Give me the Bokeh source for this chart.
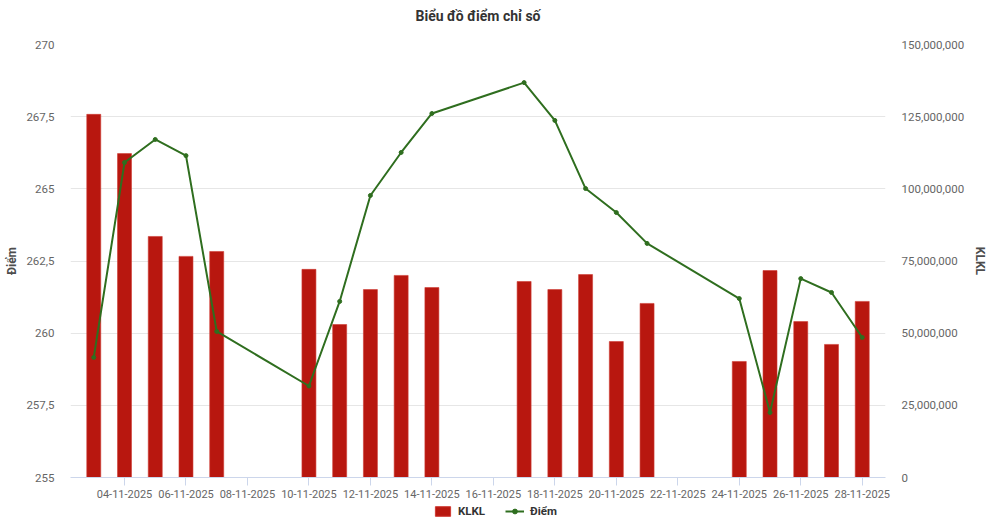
from bokeh.plotting import figure
from bokeh.models import (Range1d, LinearAxis, FixedTicker, DatetimeTickFormatter, Legend, LegendItem,
                          ColumnDataSource, Title)
from bokeh.layouts import column
from bokeh.embed import file_html
from bokeh.resources import INLINE
import pandas as pd

# du lieu doc tu bieu do
days = ["03-11-2025", "04-11-2025", "05-11-2025", "06-11-2025", "07-11-2025",
        "10-11-2025", "11-11-2025", "12-11-2025", "13-11-2025", "14-11-2025",
        "17-11-2025", "18-11-2025", "19-11-2025", "20-11-2025", "21-11-2025",
        "24-11-2025", "25-11-2025", "26-11-2025", "27-11-2025", "28-11-2025"]
klkl = [125.8e6, 112.2e6, 83.5e6, 76.6e6, 78.3e6,
        72.1e6, 53.0e6, 65.1e6, 70.0e6, 65.8e6,
        67.9e6, 65.1e6, 70.3e6, 47.1e6, 60.3e6,
        40.2e6, 71.7e6, 54.0e6, 46.1e6, 61.0e6]
diem = [259.16, 265.91, 266.71, 266.15, 260.06,
        258.17, 261.10, 264.77, 266.26, 267.61,
        268.68, 267.37, 265.01, 264.18, 263.11,
        261.20, 257.25, 261.89, 261.41, 259.85]

left_ticks = [255, 257.5, 260, 262.5, 265, 267.5, 270]
left_labels = ["255", "257,5", "260", "262,5", "265", "267,5", "270"]
right_ticks = [0, 25e6, 50e6, 75e6, 100e6, 125e6, 150e6]
right_labels = ["0", "25,000,000", "50,000,000", "75,000,000", "100,000,000", "125,000,000", "150,000,000"]
x_tick_days = ["04-11-2025", "06-11-2025", "08-11-2025", "10-11-2025", "12-11-2025", "14-11-2025",
               "16-11-2025", "18-11-2025", "20-11-2025", "22-11-2025", "24-11-2025", "26-11-2025", "28-11-2025"]

FONT = "Roboto"
RED = "#b8170f"
GREEN = "#2f6e1f"

dates = pd.to_datetime(days, format="%d-%m-%Y")
src = ColumnDataSource(dict(x=dates, klkl=klkl, diem=diem))

p = figure(width=1000, height=503, x_axis_type="datetime", output_backend="svg", toolbar_location=None,
           x_range=Range1d(pd.Timestamp("2025-11-02 05:50"), pd.Timestamp("2025-11-28 18:10")),
           y_range=Range1d(255, 270),
           min_border_left=70, min_border_right=115, min_border_top=44, min_border_bottom=26)
p.extra_y_ranges = {"vol": Range1d(0, 150e6)}
p.outline_line_color = None

# tieu de: mot khoang trong roi den chu
p.title.text = ""
p.add_layout(Title(text=" ", text_font=FONT, text_font_size="14px", standoff=3), "above")
p.add_layout(Title(text="Biểu đồ điểm chỉ số", align="center", text_font=FONT, text_font_size="14px",
                   text_color="#333333", standoff=0), "above")

# cot KLKL
bars = p.vbar(x="x", top="klkl", bottom=0, width=0.455 * 86400000, source=src, y_range_name="vol",
              fill_color=RED, line_color="#cf3a33", line_width=0.6)
# duong diem
ln = p.line("x", "diem", source=src, line_color=GREEN, line_width=2)
pts = p.scatter("x", "diem", source=src, size=4, color=GREEN)

# truc x
xt = FixedTicker(ticks=[pd.to_datetime(d, format="%d-%m-%Y").value // 10**6 for d in x_tick_days])
p.xaxis.ticker = xt
p.xaxis.formatter = DatetimeTickFormatter(days="%d-%m-%Y", months="%d-%m-%Y", hours="%d-%m-%Y",
                                          years="%d-%m-%Y")
p.xaxis.axis_line_color = "#ccd6eb"
p.xaxis.major_tick_line_color = "#ccd6eb"
p.xaxis.major_tick_out = 8
p.xaxis.major_tick_in = 0
p.xaxis.minor_tick_line_color = None
p.xaxis.major_label_text_font = FONT
p.xaxis.major_label_text_font_size = "11px"
p.xaxis.major_label_text_color = "#666666"
p.xaxis.major_label_standoff = 4
p.xgrid.visible = False

# truc trai
lt = FixedTicker(ticks=left_ticks)
p.yaxis.ticker = lt
p.ygrid.ticker = lt
p.ygrid.grid_line_color = "#e6e6e6"
p.yaxis.major_label_overrides = dict(zip(left_ticks, left_labels))
p.yaxis.axis_label = "Điểm"

# truc phai
ax2 = LinearAxis(y_range_name="vol", ticker=FixedTicker(ticks=right_ticks), axis_label="KLKL")
ax2.major_label_overrides = dict(zip(right_ticks, right_labels))
p.add_layout(ax2, "right")

for ax in [p.yaxis[0], ax2]:
    ax.axis_line_color = None
    ax.major_tick_line_color = None
    ax.minor_tick_line_color = None
    ax.major_tick_out = 0
    ax.major_tick_in = 0
    ax.major_label_text_font = FONT
    ax.major_label_text_font_size = "11.5px"
    ax.major_label_text_color = "#666666"
    ax.major_label_standoff = 16
    ax.axis_label_text_font = FONT
    ax.axis_label_text_font_size = "12px"
    ax.axis_label_text_font_style = "bold"
    ax.axis_label_text_color = "#4d4d4d"
p.yaxis[0].axis_label_standoff = 4
ax2.axis_label_standoff = 6

# chu giai: mot hinh nho rieng ben duoi (khung thang hang voi hinh tren)
lf = figure(width=1000, height=16, output_backend="svg", toolbar_location=None,
            x_range=Range1d(0, 1000), y_range=Range1d(0, 16),
            x_axis_location=None, y_axis_location=None, min_border=0)
lf.outline_line_color = None
lf.grid.visible = False
# mau ve cho chu giai, nam ngoai vung nhin thay
lg_bar = lf.vbar(x=[-1000], top=[-500], bottom=-1000, width=1, fill_color=RED, line_color="#cf3a33")
lg_line = lf.line(x=[-1000, -990], y=[-500, -500], line_color=GREEN, line_width=2)
lg_pt = lf.scatter(x=[-1000], y=[-500], size=4, color=GREEN)

legend = Legend(items=[LegendItem(label="KLKL", renderers=[lg_bar]),
                       LegendItem(label="Điểm", renderers=[lg_line, lg_pt])],
                orientation="horizontal", location=(363, 1), border_line_color=None,
                background_fill_alpha=0, label_text_font=FONT, label_text_font_size="11.5px",
                label_text_font_style="bold", label_text_color="#333333", label_standoff=6,
                glyph_width=19, glyph_height=12, label_height=12, spacing=20, padding=0, margin=0)
lf.add_layout(legend, "center")

open("out.html", "w").write(file_html(column(p, lf), INLINE))
